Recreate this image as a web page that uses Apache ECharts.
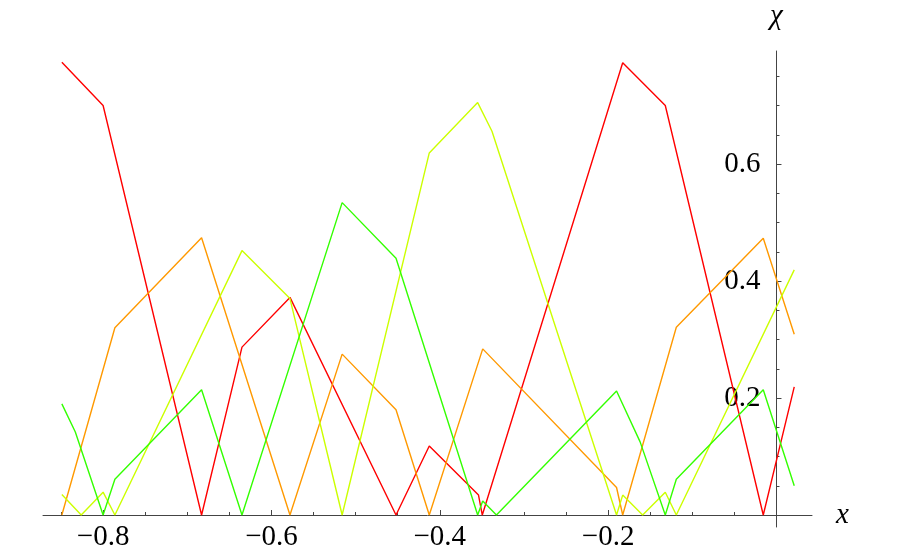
<!DOCTYPE html>
<html>
<head>
<meta charset="utf-8">
<script src="https://cdn.jsdelivr.net/npm/echarts@6/dist/echarts.min.js"></script>
<style>
  html, body { margin: 0; padding: 0; background: #fff; }
  #main { width: 900px; height: 557px; }
</style>
</head>
<body>
<div id="main"></div>
<script>
// vertices, [x, chi]
const redPoints = [
  [-0.849, 0.774], [-0.800, 0.700], [-0.683, 0], [-0.635, 0.287], [-0.578, 0.372],
  [-0.452, 0], [-0.4125, 0.118], [-0.354, 0.034], [-0.3495, 0], [-0.1827, 0.773],
  [-0.1321, 0.700], [-0.0157, 0], [0.0211, 0.219]
];
const orangePoints = [
  [-0.849, 0], [-0.786, 0.320], [-0.683, 0.474], [-0.578, 0], [-0.516, 0.275],
  [-0.452, 0.180], [-0.4125, 0], [-0.349, 0.284], [-0.190, 0.047], [-0.1827, 0],
  [-0.119, 0.321], [-0.0157, 0.473], [0.0211, 0.309]
];
const yellowPoints = [
  [-0.849, 0.035], [-0.826, 0], [-0.800, 0.039], [-0.786, 0], [-0.635, 0.452],
  [-0.578, 0.370], [-0.516, 0], [-0.4125, 0.619], [-0.355, 0.705], [-0.338, 0.656],
  [-0.190, 0], [-0.1827, 0.034], [-0.159, 0], [-0.1321, 0.039], [-0.119, 0],
  [0.0211, 0.419]
];
const greenPoints = [
  [-0.849, 0.190], [-0.833, 0.142], [-0.800, 0], [-0.786, 0.061], [-0.683, 0.214],
  [-0.635, 0], [-0.516, 0.534], [-0.452, 0.439], [-0.355, 0], [-0.349, 0.024],
  [-0.3327, 0], [-0.190, 0.212], [-0.162, 0.125], [-0.1321, 0], [-0.119, 0.061],
  [-0.0157, 0.214], [0.0211, 0.050]
];

const xMajorTicks = [-0.8, -0.6, -0.4, -0.2];
const xMinorTicks = [-0.85, -0.75, -0.7, -0.65, -0.55, -0.5, -0.45, -0.35, -0.3, -0.25, -0.15, -0.1, -0.05];
const yMajorTicks = [0.2, 0.4, 0.6];
const yMinorTicks = [0.05, 0.1, 0.15, 0.25, 0.3, 0.35, 0.45, 0.5, 0.55, 0.65, 0.7, 0.75];

const xRange = [-0.8714, 0.0422];
const yRange = [-0.0205, 0.7932];

const serif = 'Liberation Serif';
const axisColor = '#444';
const fontSize = 29;

// plot box in pixels
const W = 900, H = 557;
const box = { left: 43, right: 88, top: 51, bottom: 30 };
const plotW = W - box.left - box.right;
const plotH = H - box.top - box.bottom;

// axes cross at the origin: shift them there from the grid edges
const yAxisShift = -(0 - xRange[0]) / (xRange[1] - xRange[0]) * plotW;
const xAxisShift = -(0 - yRange[0]) / (yRange[1] - yRange[0]) * plotH;

function fmt(v) {
  return v < 0 ? '\u2212' + (-v).toFixed(1) : v.toFixed(1);
}

function line(name, pts, color) {
  return {
    name: name,
    type: 'line',
    data: pts,
    symbol: 'none',
    smooth: false,
    lineStyle: { color: color, width: 1.4 },
    itemStyle: { color: color }
  };
}

let chart = echarts.init(document.getElementById('main'));
let gridBox = Object.assign({ outerBoundsMode: 'none' }, box);

let option = {
  backgroundColor: '#fff',
  animation: false,
  grid: [Object.assign({}, gridBox), Object.assign({}, gridBox)],
  xAxis: [
    {
      type: 'value', gridIndex: 0, min: xRange[0], max: xRange[1],
      position: 'bottom', offset: xAxisShift,
      splitLine: { show: false },
      axisLine: { onZero: false, lineStyle: { color: axisColor, width: 1 } },
      axisTick: { show: true, inside: true, length: 5, customValues: xMajorTicks, lineStyle: { color: axisColor } },
      axisLabel: { customValues: xMajorTicks, formatter: fmt, margin: 8, color: '#000', fontFamily: serif, fontSize: fontSize },
      name: 'x', nameLocation: 'end', nameGap: 24,
      nameTextStyle: { fontFamily: serif, fontStyle: 'italic', fontSize: fontSize, color: '#000' }
    },
    {
      type: 'value', gridIndex: 1, min: xRange[0], max: xRange[1],
      position: 'bottom', offset: xAxisShift,
      splitLine: { show: false },
      axisLine: { show: false, onZero: false },
      axisTick: { show: true, inside: true, length: 3, customValues: xMinorTicks, lineStyle: { color: axisColor } },
      axisLabel: { show: false }
    }
  ],
  yAxis: [
    {
      type: 'value', gridIndex: 0, min: yRange[0], max: yRange[1],
      position: 'left', offset: yAxisShift,
      splitLine: { show: false },
      axisLine: { onZero: false, lineStyle: { color: axisColor, width: 1 } },
      axisTick: { show: true, inside: true, length: 5, customValues: yMajorTicks, lineStyle: { color: axisColor } },
      axisLabel: { customValues: yMajorTicks, formatter: fmt, margin: 16, color: '#000', fontFamily: serif, fontSize: fontSize },
      name: 'χ', nameLocation: 'end', nameGap: 20,
      nameTextStyle: { fontFamily: serif, fontStyle: 'italic', fontSize: fontSize, color: '#000' }
    },
    {
      type: 'value', gridIndex: 1, min: yRange[0], max: yRange[1],
      position: 'left', offset: yAxisShift,
      splitLine: { show: false },
      axisLine: { show: false, onZero: false },
      axisTick: { show: true, inside: true, length: 3, customValues: yMinorTicks, lineStyle: { color: axisColor } },
      axisLabel: { show: false }
    }
  ],
  series: [
    line('red', redPoints, '#ff0000'),
    line('orange', orangePoints, '#ff9900'),
    line('yellow', yellowPoints, '#ccff00'),
    line('green', greenPoints, '#33ff00')
  ]
};

chart.setOption(option);
</script>
</body>
</html>
